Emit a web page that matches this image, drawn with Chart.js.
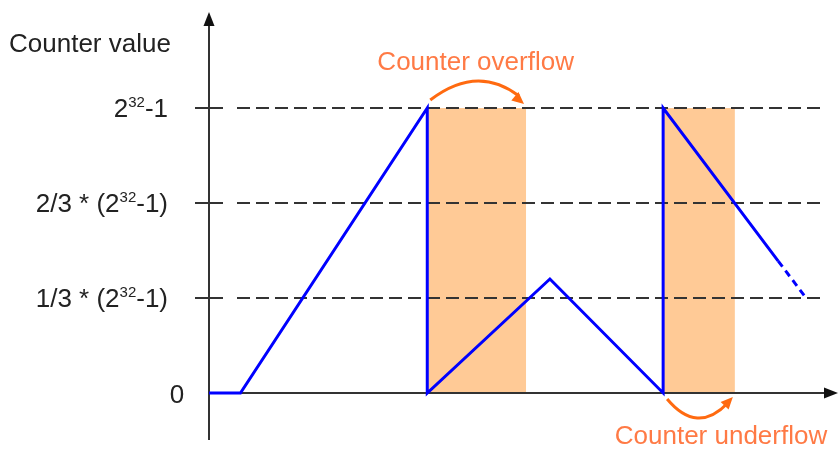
<!DOCTYPE html>
<html>
<head>
<meta charset="utf-8">
<script src="https://cdn.jsdelivr.net/npm/chart.js@4.4.1/dist/chart.umd.min.js"></script>
<style>
    html, body { margin: 0; padding: 0; background: #fff; }
    canvas { display: block; }
</style>
</head>
<body>
<canvas id="counter-chart" width="838" height="450"></canvas>
<script>
// --- Counter trace (time in arbitrary units, value as a fraction of 2^32-1) ---
const timeSteps = [0, 5, 34.7, 34.7, 54.2, 72.2, 72.2, 90.5, 94.8];
const counterValues = [0, 0, 1, 0, 0.4, 0, 1, 0.463, 0.337];

// --- Reference levels on the value axis ---
const levelValues = [0, 1 / 3, 2 / 3, 1];
const levelLabels = ['0', '1/3 * (2^32-1)', '2/3 * (2^32-1)', '2^32-1'];

// --- Wrap-around intervals (start, end) ---
const overflowBand = [34.7, 50.4];
const underflowBand = [72.2, 83.6];

const axisTitle = 'Counter value';
const overflowText = 'Counter overflow';
const underflowText = 'Counter underflow';

const FONT = '"Liberation Sans", Arial, sans-serif';
const AXIS_COLOR = '#333333';
const BAND_COLOR = '#ffca96';
const NOTE_COLOR = '#ff7a45';
const ARROW_COLOR = '#ff6a10';

// Draws text with "^nn" parts as superscript
function drawSupText(ctx, text, x, baseline, size, align) {
    const parts = text.split(/\^(\d+)/);
    const supSize = Math.round(size * 0.56);
    let width = 0;
    parts.forEach((p, i) => {
        ctx.font = `${i % 2 ? supSize : size}px ${FONT}`;
        width += ctx.measureText(p).width;
    });
    let cx = align === 'center' ? x - width / 2 : x - width;
    ctx.textAlign = 'left';
    ctx.textBaseline = 'alphabetic';
    parts.forEach((p, i) => {
        const sup = i % 2 === 1;
        ctx.font = `${sup ? supSize : size}px ${FONT}`;
        ctx.fillText(p, cx, sup ? baseline - size * 0.4 : baseline);
        cx += ctx.measureText(p).width;
    });
}

function arrowHead(ctx, tipX, tipY, fromX, fromY, len, half) {
    const a = Math.atan2(tipY - fromY, tipX - fromX);
    ctx.beginPath();
    ctx.moveTo(tipX, tipY);
    ctx.lineTo(tipX - len * Math.cos(a) + half * Math.sin(a), tipY - len * Math.sin(a) - half * Math.cos(a));
    ctx.lineTo(tipX - len * Math.cos(a) - half * Math.sin(a), tipY - len * Math.sin(a) + half * Math.cos(a));
    ctx.closePath();
    ctx.fill();
}

// --- Background: bands, dashed levels, axes, tick labels ---
const backdropPlugin = {
    id: 'backdrop',
    beforeDatasetsDraw(chart) {
        const { ctx, chartArea, scales } = chart;
        const xs = scales.x, ys = scales.y;
        const y0 = ys.getPixelForValue(0);
        const yTop = ys.getPixelForValue(1);
        const ax = chartArea.left;

        ctx.save();
        ctx.fillStyle = BAND_COLOR;
        [overflowBand, underflowBand].forEach(([a, b]) => {
            const x1 = xs.getPixelForValue(a) + 1;
            const x2 = xs.getPixelForValue(b);
            ctx.fillRect(x1, yTop, x2 - x1, y0 - yTop);
        });

        ctx.strokeStyle = AXIS_COLOR;
        ctx.lineWidth = 2;
        levelValues.forEach(v => {
            if (v === 0) return;
            const y = Math.round(ys.getPixelForValue(v));
            ctx.setLineDash([]);
            ctx.beginPath();
            ctx.moveTo(ax - 14, y);
            ctx.lineTo(ax + 14, y);
            ctx.stroke();
            ctx.setLineDash([13, 6]);
            ctx.beginPath();
            ctx.moveTo(ax + 28, y);
            ctx.lineTo(chartArea.right - 16, y);
            ctx.stroke();
        });
        ctx.setLineDash([]);

        // axes with arrow heads
        ctx.beginPath();
        ctx.moveTo(ax, chartArea.bottom);
        ctx.lineTo(ax, chartArea.top + 10);
        ctx.moveTo(ax, y0);
        ctx.lineTo(chartArea.right - 10, y0);
        ctx.stroke();
        ctx.fillStyle = '#111';
        arrowHead(ctx, ax, chartArea.top, ax, chartArea.top + 20, 14, 5.5);
        arrowHead(ctx, chartArea.right, y0, chartArea.right - 20, y0, 14, 5.5);

        // value labels
        ctx.fillStyle = '#222';
        levelValues.forEach((v, i) => {
            const y = ys.getPixelForValue(v) + 9;
            if (v === 0) {
                drawSupText(ctx, levelLabels[i], ax - 32, y + 1, 26, 'center');
            } else {
                drawSupText(ctx, levelLabels[i], ax - 41, y, 26, 'right');
            }
        });
        ctx.font = `26px ${FONT}`;
        ctx.textAlign = 'left';
        ctx.fillText(axisTitle, 9, 52);
        ctx.restore();
    }
};

// --- Overflow / underflow notes with curved arrows ---
const notesPlugin = {
    id: 'notes',
    afterDatasetsDraw(chart) {
        const { ctx, scales } = chart;
        const xs = scales.x, ys = scales.y;
        const yTop = ys.getPixelForValue(1);
        const y0 = ys.getPixelForValue(0);

        ctx.save();
        ctx.strokeStyle = ARROW_COLOR;
        ctx.fillStyle = ARROW_COLOR;
        ctx.lineWidth = 3;

        // over the top band
        let sx = xs.getPixelForValue(overflowBand[0]) + 3;
        let ex = xs.getPixelForValue(overflowBand[1]) - 2;
        let cx = (sx + ex) / 2, cy = yTop - 44;
        ctx.beginPath();
        ctx.moveTo(sx, yTop - 8);
        ctx.quadraticCurveTo(cx, cy, ex - 5, yTop - 12);
        ctx.stroke();
        arrowHead(ctx, ex, yTop - 4, cx, cy, 12, 5.5);

        // under the bottom band
        sx = xs.getPixelForValue(underflowBand[0]) + 4;
        ex = xs.getPixelForValue(underflowBand[1]) - 2;
        cx = (sx + ex) / 2 - 3; cy = y0 + 42;
        ctx.beginPath();
        ctx.moveTo(sx, y0 + 6);
        ctx.quadraticCurveTo(cx, cy, ex - 5, y0 + 10);
        ctx.stroke();
        arrowHead(ctx, ex, y0 + 4, cx, cy, 12, 5.5);

        ctx.fillStyle = NOTE_COLOR;
        ctx.font = `26px ${FONT}`;
        ctx.textAlign = 'center';
        ctx.textBaseline = 'alphabetic';
        const overMid = xs.getPixelForValue((overflowBand[0] + overflowBand[1]) / 2);
        ctx.fillText(overflowText, overMid - 1, yTop - 38);
        const underMid = xs.getPixelForValue((underflowBand[0] + underflowBand[1]) / 2);
        ctx.fillText(underflowText, underMid + 22, y0 + 51);
        ctx.restore();
    }
};

const ctx = document.getElementById('counter-chart').getContext('2d');
const lastIndex = counterValues.length - 1;

new Chart(ctx, {
    type: 'line',
    data: {
        datasets: [{
            label: axisTitle,
            data: timeSteps.map((t, i) => ({ x: t, y: counterValues[i] })),
            borderColor: '#0000ff',
            borderWidth: 3,
            borderJoinStyle: 'miter',
            pointRadius: 0,
            tension: 0,
            fill: false,
            segment: {
                borderDash: c => (c.p1DataIndex === lastIndex ? [7, 5] : undefined)
            }
        }]
    },
    options: {
        responsive: false,
        animation: false,
        layout: { padding: { left: 209, top: 12, right: 0, bottom: 10 } },
        scales: {
            x: { type: 'linear', min: 0, max: 100, display: false },
            y: { type: 'linear', min: -0.165, max: 1.337, display: false }
        },
        plugins: {
            legend: { display: false },
            tooltip: { enabled: false }
        }
    },
    plugins: [backdropPlugin, notesPlugin]
});
</script>
</body>
</html>
